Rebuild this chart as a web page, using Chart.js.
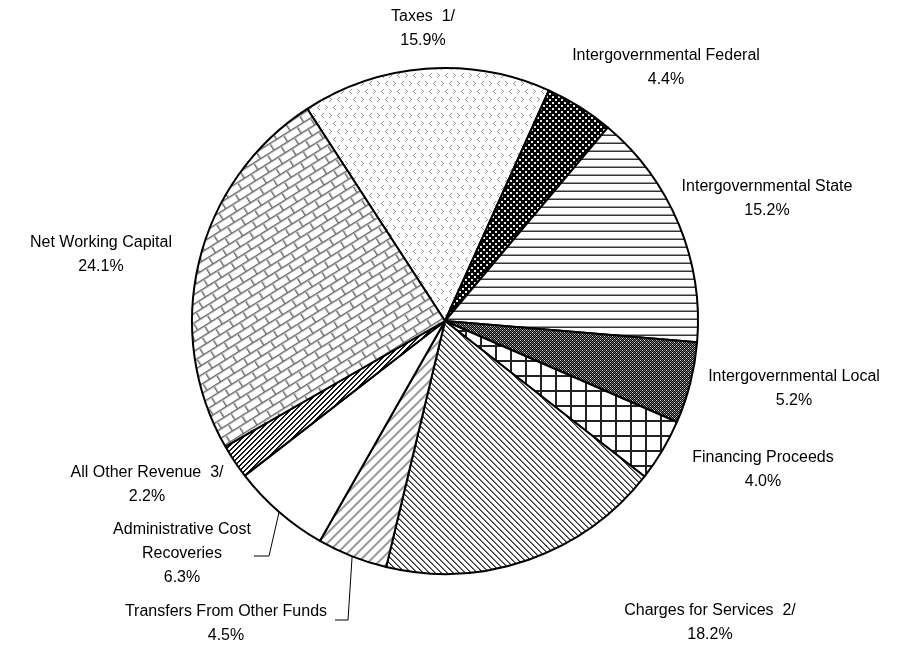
<!DOCTYPE html>
<html><head><meta charset="utf-8">
<script src="https://cdn.jsdelivr.net/npm/chart.js@4.4.0/dist/chart.umd.min.js"></script>
<style>html,body{margin:0;padding:0;background:#fff;}#wrap{width:917px;height:648px;}</style>
</head><body><div id="wrap"><canvas id="c" width="917" height="648"></canvas></div>
<script>
// ---- data ----
const categories = ['Taxes  1/', 'Intergovernmental Federal', 'Intergovernmental State', 'Intergovernmental Local',
  'Financing Proceeds', 'Charges for Services  2/', 'Transfers From Other Funds', 'Administrative Cost Recoveries',
  'All Other Revenue  3/', 'Net Working Capital'];
const labelLines = [['Taxes  1/'], ['Intergovernmental Federal'], ['Intergovernmental State'], ['Intergovernmental Local'],
  ['Financing Proceeds'], ['Charges for Services  2/'], ['Transfers From Other Funds'], ['Administrative Cost', 'Recoveries'],
  ['All Other Revenue  3/'], ['Net Working Capital']];
const shares = [15.9, 4.4, 15.2, 5.2, 4.0, 18.2, 4.5, 6.3, 2.2, 24.1];

// ---- label placement (offsets in px from pie centre, first line centre) ----
const labelPos = [[-22, -304], [221, -265], [322, -134], [349, 56], [318, 137], [265, 290], [-219, 291], [-263, 209], [-298, 152], [-344, -78]];
const leaders = {6: [[-97, 299], [-110, 299]], 7: [[-176, 235], [-191, 235]]};

// ---- patterns ----
function tile(w, h, draw) {
  const c = document.createElement('canvas'); c.width = w; c.height = h;
  const g = c.getContext('2d'); g.fillStyle = '#fff'; g.fillRect(0, 0, w, h);
  draw(g, w, h); return c;
}
function px(g, x, y, col) { g.fillStyle = col; g.fillRect(x, y, 1, 1); }
const ctx0 = document.getElementById('c').getContext('2d');
function pat(c, rot) {
  const p = ctx0.createPattern(c, 'repeat');
  if (rot) p.setTransform(new DOMMatrix().rotate(rot));
  return p;
}
const taxesTile = tile(16, 16, (g) => {
  const col = '#8f8f8f';
  const lt = [[2,0],[1,1],[0,2],[1,3],[2,4]];
  const gt = [[0,0],[1,1],[2,2],[1,3],[0,4]];
  lt.forEach(([x,y]) => px(g, 1+x, 1+y, col));
  gt.forEach(([x,y]) => px(g, 9+x, 1+y, col));
  gt.forEach(([x,y]) => px(g, 5+x, 9+y, col));
  lt.forEach(([x,y]) => px(g, 13+x, 9+y, col));
});
const fedTile = tile(6, 6, (g) => {
  g.fillStyle = '#000'; g.fillRect(0, 0, 6, 6);
  g.fillStyle = '#e8e8e8'; g.fillRect(0, 0, 2, 2); g.fillRect(3, 3, 2, 2);
});
const stateTile = tile(8, 8, (g) => {
  g.fillStyle = '#999'; g.fillRect(0, 6, 8, 1);
  g.fillStyle = '#333'; g.fillRect(0, 7, 8, 1);
});
const localTile = tile(4, 4, (g) => {
  const m = [['#ddd','#000','#777','#000'],['#000','#777','#000','#777'],['#777','#000','#ddd','#000'],['#000','#777','#000','#777']];
  for (let y = 0; y < 4; y++) for (let x = 0; x < 4; x++) px(g, x, y, m[y][x]);
});
const finTile = tile(15, 15, (g) => {
  g.fillStyle = '#222'; g.fillRect(0, 0, 15, 2); g.fillRect(0, 0, 2, 15);
});
const chargesTile = tile(6, 6, (g) => {
  for (let i = 0; i < 6; i++) { px(g, i, i, '#333'); px(g, (i + 1) % 6, i, '#777'); }
});
const transTile = tile(10, 10, (g) => {
  for (let i = 0; i < 10; i++) {
    const x = 9 - i;
    px(g, (x + 9) % 10, i, '#d0d0d0'); px(g, x, i, '#9a9a9a'); px(g, (x + 1) % 10, i, '#9a9a9a'); px(g, (x + 2) % 10, i, '#d0d0d0');
  }
});
const otherTile = tile(5, 5, (g) => {
  for (let i = 0; i < 5; i++) { const x = 4 - i; px(g, x, i, '#000'); px(g, (x + 1) % 5, i, '#222'); }
});
const nwcTile = tile(16, 16, (g) => {
  g.fillStyle = '#666'; g.fillRect(0, 0, 16, 1); g.fillRect(0, 8, 16, 1);
  g.fillRect(0, 0, 1, 8); g.fillRect(8, 8, 1, 8);
  g.fillStyle = '#bbb'; g.fillRect(0, 1, 16, 1); g.fillRect(0, 9, 16, 1);
  g.fillRect(1, 1, 1, 7); g.fillRect(9, 9, 1, 7);
});
const fills = [pat(taxesTile), pat(fedTile), pat(stateTile), pat(localTile), pat(finTile), pat(chargesTile),
  pat(transTile), '#ffffff', pat(otherTile), pat(nwcTile, -32)];

// ---- label plugin ----
const labelPlugin = {
  id: 'pieLabels',
  afterDatasetsDraw(chart) {
    const ctx = chart.ctx;
    const meta = chart.getDatasetMeta(0);
    ctx.save();
    ctx.font = '16px "Liberation Sans", Arial, sans-serif';
    ctx.fillStyle = '#000';
    ctx.textAlign = 'center';
    ctx.textBaseline = 'middle';
    meta.data.forEach((arc, i) => {
      const {x, y, startAngle, endAngle, outerRadius} = arc.getProps(['x', 'y', 'startAngle', 'endAngle', 'outerRadius'], true);
      const lines = labelLines[i].concat([shares[i].toFixed(1) + '%']);
      const [dx, dy] = labelPos[i];
      lines.forEach((t, k) => ctx.fillText(t, x + dx, y + dy + k * 24));
      if (leaders[i]) {
        const mid = (startAngle + endAngle) / 2;
        ctx.strokeStyle = '#000'; ctx.lineWidth = 1;
        ctx.beginPath();
        ctx.moveTo(x + Math.cos(mid) * outerRadius, y + Math.sin(mid) * outerRadius);
        leaders[i].forEach(([lx, ly]) => ctx.lineTo(x + lx, y + ly));
        ctx.stroke();
      }
    });
    ctx.restore();
  }
};

new Chart(document.getElementById('c'), {
  type: 'pie',
  data: { labels: categories, datasets: [{ data: shares, backgroundColor: fills, borderColor: '#000', borderWidth: 2 }] },
  options: {
    responsive: false, animation: false, rotation: -33,
    layout: { padding: { left: 191, right: 218, top: 67, bottom: 73 } },
    plugins: { legend: { display: false }, tooltip: { enabled: false } }
  },
  plugins: [labelPlugin]
});
</script></body></html>
